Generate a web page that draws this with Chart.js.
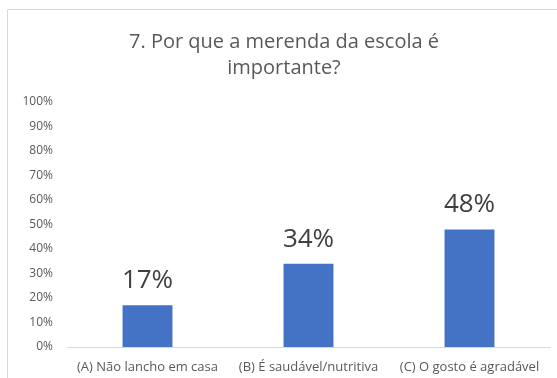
<!DOCTYPE html>
<html>
<head>
<meta charset="utf-8">
<script src="https://cdn.jsdelivr.net/npm/chart.js@4/dist/chart.umd.min.js"></script>
<style>
  html, body { margin: 0; padding: 0; background: #ffffff; }
  #wrap { width: 557px; height: 378px; position: relative; }
</style>
</head>
<body>
<div id="wrap"><canvas id="c" width="557" height="378"></canvas></div>
<script>
const titleLines = ['7. Por que a merenda da escola é', 'importante?'];
const categories = ['(A) Não lancho em casa', '(B) É saudável/nutritiva', '(C) O gosto é agradável'];
const percentValues = [17, 34, 48];
const tickMax = 100;
const tickStep = 10;

const FONT = '"Open Sans", Lato, sans-serif';

// Frame, title and value labels drawn on the canvas
const decorations = {
  id: 'decorations',
  beforeDraw(chart) {
    const ctx = chart.ctx;
    ctx.save();
    ctx.fillStyle = '#ffffff';
    ctx.fillRect(0, 0, chart.width, chart.height);
    ctx.strokeStyle = '#d9d9d9';
    ctx.lineWidth = 1;
    ctx.beginPath();
    ctx.moveTo(7.5, chart.height);
    ctx.lineTo(7.5, 9.5);
    ctx.lineTo(chart.width, 9.5);
    ctx.stroke();
    ctx.restore();
  },
  afterDatasetsDraw(chart) {
    const ctx = chart.ctx;
    ctx.save();
    ctx.fillStyle = '#595959';
    ctx.font = '20px ' + FONT;
    ctx.textAlign = 'center';
    ctx.textBaseline = 'alphabetic';
    titleLines.forEach((t, i) => ctx.fillText(t, 284, 48 + i * 26));

    const meta = chart.getDatasetMeta(0);
    const ds = chart.data.datasets[0].data;
    ctx.fillStyle = '#404040';
    ctx.font = '26px ' + FONT;
    meta.data.forEach((bar, i) => {
      ctx.fillText(ds[i] + '%', bar.x, bar.y - 17);
    });
    ctx.restore();
  }
};

new Chart(document.getElementById('c'), {
  type: 'bar',
  data: {
    labels: categories,
    datasets: [{
      data: percentValues,
      backgroundColor: '#4472c4',
      borderWidth: 0,
      categoryPercentage: 1,
      barPercentage: 0.31
    }]
  },
  options: {
    responsive: false,
    animation: false,
    events: [],
    layout: { padding: { left: 7, right: 7, top: 102, bottom: 0 } },
    plugins: {
      legend: { display: false },
      title: { display: false },
      tooltip: { enabled: false }
    },
    scales: {
      x: {
        grid: { display: false, drawTicks: false },
        border: { display: true, color: '#d9d9d9', width: 1 },
        ticks: {
          color: '#595959',
          font: { family: FONT, size: 13 },
          padding: 12,
          maxRotation: 0,
          autoSkip: false
        },
        afterFit(scale) { scale.height = 31; }
      },
      y: {
        min: 0,
        max: tickMax,
        grid: { display: false, drawTicks: false },
        border: { display: false },
        ticks: {
          stepSize: tickStep,
          color: '#595959',
          font: { family: FONT, size: 12 },
          padding: 14,
          callback: v => v + '%'
        },
        afterFit(scale) { scale.width = 60; }
      }
    }
  },
  plugins: [decorations]
});
</script>
</body>
</html>
